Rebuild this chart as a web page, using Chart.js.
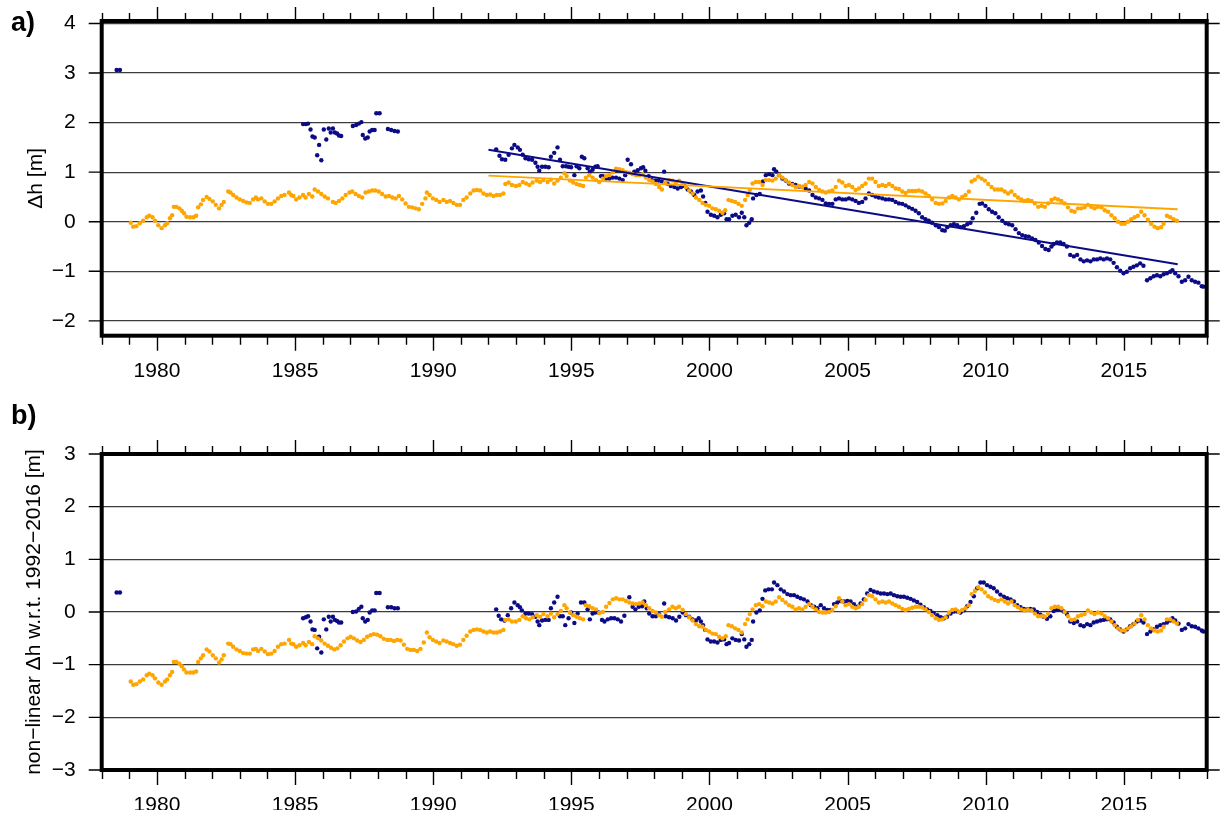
<!DOCTYPE html>
<html>
<head>
<meta charset="utf-8">
<script src="https://cdn.jsdelivr.net/npm/chart.js@4.4.1/dist/chart.umd.min.js"></script>
<style>
  html, body { margin: 0; padding: 0; background: #fff; }
  #wrap { position: relative; width: 1222px; height: 820px; overflow: hidden; }
  canvas { position: absolute; left: 0; }
  .tag { position: absolute; left: 11px; font: bold 27px "Liberation Sans", Arial, sans-serif; line-height: 27px; color: #000; }
</style>
</head>
<body>
<div id="wrap">
  <canvas id="chartA" width="1222" height="400" style="top:0"></canvas>
  <canvas id="chartB" width="1222" height="420" style="top:400px"></canvas>
  <div class="tag" style="top:9px">a)</div>
  <div class="tag" style="top:402px">b)</div>
</div>
<script>
// ---- axis ticks ----
const majorYears = [1980, 1985, 1990, 1995, 2000, 2005, 2010, 2015];
const yTicksA = [-2, -1, 0, 1, 2, 3, 4];
const gridB = [-3, -2.5, -2, -1.5, -1, -0.5, 0, 0.5, 1, 1.5, 2, 2.5, 3];
const yTicksB = [-3, -2, -1, 0, 1, 2, 3];

// ---- panel a: elevation change [m] ----
const blueA = [
  [1978.54,3.06],[1978.66,3.06],
  [1985.29,1.97],[1985.39,1.97],[1985.47,1.98],[1985.56,1.86],[1985.63,1.72],[1985.71,1.70],[1985.8,1.34],[1985.87,1.55],[1985.95,1.24],
  [1986.04,1.86],[1986.13,1.66],[1986.22,1.88],[1986.29,1.80],[1986.37,1.88],[1986.44,1.80],[1986.52,1.78],[1986.59,1.74],[1986.67,1.73],
  [1987.09,1.93],[1987.21,1.95],[1987.31,1.98],[1987.4,2.01],[1987.45,1.75],[1987.54,1.68],[1987.63,1.70],[1987.7,1.82],[1987.79,1.85],[1987.88,1.85],
  [1987.94,2.19],[1988.06,2.19],[1988.36,1.87],[1988.48,1.85],[1988.6,1.83],[1988.72,1.82],
  [1992.28,1.46],[1992.4,1.33],[1992.49,1.26],[1992.61,1.25],[1992.73,1.35],[1992.85,1.48],[1992.94,1.55],[1993.06,1.50],[1993.14,1.45],[1993.24,1.35],
  [1993.34,1.28],[1993.46,1.26],[1993.58,1.25],[1993.7,1.19],[1993.78,1.11],[1993.84,1.03],[1993.94,1.11],[1994.06,1.11],[1994.18,1.10],[1994.26,1.31],
  [1994.38,1.39],[1994.5,1.50],[1994.59,1.25],[1994.69,1.12],[1994.81,1.12],[1994.9,1.11],[1994.99,1.10],[1995.11,0.94],[1995.19,1.12],[1995.29,1.08],
  [1995.38,1.31],[1995.47,1.28],[1995.59,1.08],[1995.67,1.01],[1995.77,1.05],[1995.87,1.11],[1995.95,1.12],[1996.07,0.92],[1996.14,0.92],[1996.26,0.87],
  [1996.38,0.87],[1996.5,0.89],[1996.62,0.89],[1996.74,0.87],[1996.86,0.84],[1996.95,0.94],[1997.04,1.25],[1997.16,1.16],[1997.28,1.01],[1997.4,1.04],
  [1997.52,1.08],[1997.6,1.10],[1997.68,1.03],[1997.8,0.92],[1997.92,0.84],[1998.04,0.83],[1998.16,0.83],[1998.28,0.81],[1998.36,1.01],[1998.48,0.77],
  [1998.6,0.72],[1998.73,0.70],[1998.85,0.67],[1998.97,0.70],[1999.09,0.72],[1999.21,0.65],[1999.33,0.61],[1999.45,0.54],[1999.57,0.61],[1999.69,0.63],
  [1999.77,0.51],[1999.85,0.38],[1999.93,0.20],[2000.05,0.14],[2000.17,0.12],[2000.29,0.09],[2000.41,0.14],[2000.53,0.17],[2000.62,0.05],[2000.71,0.05],
  [2000.83,0.12],[2000.95,0.14],[2001.07,0.09],[2001.17,0.18],[2001.26,0.09],[2001.34,-0.07],[2001.44,-0.02],[2001.53,0.05],
  [2001.58,0.47],[2001.7,0.54],[2001.82,0.56],[2001.94,0.81],[2002.04,0.94],[2002.16,0.96],[2002.28,0.94],[2002.34,1.06],[2002.42,1.01],[2002.52,0.94],
  [2002.64,0.87],[2002.76,0.83],[2002.88,0.77],[2003.0,0.76],[2003.12,0.74],[2003.24,0.71],[2003.36,0.70],[2003.48,0.67],[2003.61,0.63],[2003.73,0.54],
  [2003.85,0.49],[2003.97,0.47],[2004.09,0.44],[2004.21,0.37],[2004.33,0.36],[2004.45,0.36],[2004.57,0.45],[2004.69,0.47],[2004.81,0.45],[2004.93,0.45],
  [2005.05,0.47],[2005.17,0.45],[2005.29,0.42],[2005.41,0.38],[2005.53,0.40],[2005.65,0.47],[2005.77,0.57],[2005.89,0.54],[2006.01,0.51],[2006.13,0.49],
  [2006.26,0.47],[2006.38,0.45],[2006.5,0.45],[2006.62,0.44],[2006.74,0.40],[2006.86,0.37],[2006.98,0.36],[2007.1,0.33],[2007.22,0.29],[2007.34,0.26],
  [2007.46,0.22],[2007.58,0.17],[2007.7,0.09],[2007.82,0.05],[2007.94,0.02],[2008.06,-0.02],[2008.19,-0.07],[2008.31,-0.11],[2008.43,-0.17],[2008.52,-0.18],
  [2008.61,-0.11],[2008.73,-0.07],[2008.85,-0.05],[2008.97,-0.07],[2009.09,-0.11],[2009.21,-0.09],[2009.33,-0.05],[2009.45,-0.02],[2009.53,0.07],[2009.66,0.18],
  [2009.78,0.36],[2009.87,0.37],[2009.99,0.32],[2010.11,0.25],[2010.23,0.20],[2010.35,0.17],[2010.47,0.09],[2010.6,0.02],[2010.72,-0.03],[2010.84,-0.05],
  [2010.96,-0.07],[2011.08,-0.15],[2011.2,-0.23],[2011.32,-0.27],[2011.44,-0.29],[2011.56,-0.30],[2011.68,-0.34],[2011.8,-0.37],[2011.92,-0.42],[2012.04,-0.49],
  [2012.16,-0.55],[2012.28,-0.57],[2012.38,-0.50],[2012.46,-0.45],[2012.58,-0.42],[2012.7,-0.42],[2012.82,-0.45],[2012.94,-0.50],[2013.06,-0.67],[2013.19,-0.70],
  [2013.31,-0.67],[2013.43,-0.76],[2013.55,-0.80],[2013.67,-0.78],[2013.79,-0.80],[2013.91,-0.76],[2014.03,-0.76],[2014.15,-0.74],[2014.27,-0.76],[2014.39,-0.74],
  [2014.51,-0.76],[2014.63,-0.83],[2014.75,-0.92],[2014.87,-0.99],[2014.99,-1.04],[2015.11,-1.01],[2015.23,-0.94],[2015.35,-0.91],[2015.47,-0.88],[2015.59,-0.84],
  [2015.71,-0.89],[2015.84,-1.18],[2015.96,-1.14],[2016.08,-1.10],[2016.2,-1.08],[2016.32,-1.10],[2016.44,-1.06],[2016.56,-1.04],[2016.68,-1.01],[2016.76,-0.98],
  [2016.86,-1.04],[2016.98,-1.10],[2017.1,-1.21],[2017.22,-1.18],[2017.34,-1.11],[2017.46,-1.18],[2017.58,-1.21],[2017.7,-1.23],[2017.82,-1.30],[2017.88,-1.31]
];
const orangeA = [
  [1979.05,-0.02],[1979.14,-0.10],[1979.25,-0.09],[1979.38,-0.03],[1979.5,0.02],[1979.63,0.09],[1979.72,0.12],[1979.84,0.09],[1979.93,0.02],[1980.05,-0.07],
  [1980.17,-0.13],[1980.29,-0.07],[1980.37,-0.03],[1980.47,0.07],[1980.55,0.13],[1980.61,0.30],[1980.7,0.30],[1980.81,0.27],[1980.9,0.22],[1980.98,0.17],
  [1981.07,0.10],[1981.2,0.09],[1981.32,0.09],[1981.42,0.12],[1981.49,0.29],[1981.59,0.35],[1981.67,0.44],[1981.8,0.50],[1981.9,0.46],[1982.02,0.41],
  [1982.13,0.34],[1982.25,0.27],[1982.34,0.34],[1982.42,0.40],[1982.58,0.61],[1982.66,0.59],[1982.76,0.54],[1982.88,0.49],[1983.0,0.45],[1983.12,0.42],
  [1983.24,0.39],[1983.36,0.38],[1983.48,0.45],[1983.58,0.49],[1983.66,0.45],[1983.78,0.47],[1983.9,0.41],[1984.02,0.36],[1984.14,0.36],[1984.26,0.41],
  [1984.38,0.47],[1984.5,0.52],[1984.62,0.54],[1984.78,0.59],[1984.86,0.54],[1984.94,0.52],[1985.04,0.45],[1985.16,0.49],[1985.29,0.54],[1985.38,0.49],
  [1985.5,0.56],[1985.62,0.51],[1985.71,0.65],[1985.83,0.61],[1985.95,0.56],[1986.07,0.51],[1986.19,0.47],[1986.37,0.40],[1986.47,0.38],[1986.59,0.42],
  [1986.71,0.47],[1986.83,0.54],[1986.97,0.59],[1987.07,0.61],[1987.19,0.56],[1987.31,0.52],[1987.43,0.49],[1987.55,0.59],[1987.67,0.61],[1987.79,0.63],
  [1987.91,0.63],[1988.03,0.61],[1988.15,0.56],[1988.28,0.51],[1988.4,0.52],[1988.52,0.49],[1988.64,0.47],[1988.76,0.52],[1988.88,0.45],[1989.0,0.37],
  [1989.12,0.30],[1989.24,0.29],[1989.36,0.27],[1989.48,0.25],[1989.6,0.36],[1989.72,0.47],[1989.77,0.59],[1989.87,0.54],[1989.99,0.47],[1990.11,0.44],
  [1990.23,0.40],[1990.37,0.44],[1990.49,0.40],[1990.61,0.42],[1990.73,0.38],[1990.85,0.34],[1990.97,0.34],[1991.09,0.44],[1991.21,0.49],[1991.34,0.57],
  [1991.46,0.63],[1991.58,0.64],[1991.7,0.63],[1991.82,0.57],[1991.94,0.54],[1992.06,0.55],[1992.18,0.52],[1992.3,0.54],[1992.42,0.54],[1992.54,0.57],
  [1992.61,0.76],[1992.73,0.79],[1992.85,0.74],[1992.99,0.72],[1993.12,0.74],[1993.24,0.80],[1993.36,0.77],[1993.48,0.74],[1993.6,0.79],[1993.75,0.83],
  [1993.87,0.80],[1993.99,0.84],[1994.14,0.80],[1994.26,0.85],[1994.38,0.77],[1994.5,0.83],[1994.62,0.89],[1994.75,0.98],[1994.83,0.92],[1994.95,0.83],
  [1995.07,0.79],[1995.19,0.76],[1995.31,0.74],[1995.43,0.72],[1995.53,0.89],[1995.65,0.94],[1995.77,0.89],[1995.89,0.84],[1996.01,0.80],[1996.14,0.87],
  [1996.26,0.92],[1996.38,0.94],[1996.5,1.00],[1996.62,1.07],[1996.74,1.06],[1996.86,1.04],[1996.98,1.00],[1997.1,0.99],[1997.22,0.96],[1997.34,0.94],
  [1997.46,0.94],[1997.58,0.96],[1997.7,0.89],[1997.82,0.84],[1997.94,0.81],[1998.06,0.76],[1998.18,0.70],[1998.28,0.65],[1998.4,0.79],[1998.54,0.84],
  [1998.66,0.83],[1998.78,0.77],[1998.9,0.83],[1999.03,0.77],[1999.15,0.70],[1999.27,0.63],[1999.39,0.57],[1999.51,0.49],[1999.63,0.44],[1999.75,0.38],
  [1999.87,0.34],[1999.99,0.32],[2000.11,0.27],[2000.23,0.25],[2000.35,0.22],[2000.47,0.18],[2000.57,0.23],[2000.69,0.44],[2000.81,0.42],[2000.93,0.40],
  [2001.05,0.36],[2001.17,0.32],[2001.29,0.44],[2001.38,0.54],[2001.46,0.64],[2001.56,0.77],[2001.68,0.80],[2001.8,0.80],[2001.92,0.74],[2002.04,0.84],
  [2002.16,0.84],[2002.28,0.83],[2002.4,0.87],[2002.52,0.94],[2002.64,0.89],[2002.76,0.84],[2002.88,0.79],[2003.0,0.74],[2003.12,0.70],[2003.24,0.72],
  [2003.36,0.70],[2003.48,0.74],[2003.61,0.80],[2003.73,0.77],[2003.85,0.70],[2003.97,0.64],[2004.09,0.61],[2004.21,0.59],[2004.33,0.61],[2004.45,0.63],
  [2004.57,0.70],[2004.69,0.83],[2004.81,0.79],[2004.93,0.72],[2005.05,0.74],[2005.17,0.70],[2005.29,0.64],[2005.41,0.67],[2005.53,0.72],[2005.65,0.77],
  [2005.77,0.87],[2005.89,0.87],[2006.01,0.80],[2006.13,0.72],[2006.26,0.74],[2006.38,0.72],[2006.5,0.76],[2006.62,0.72],[2006.74,0.67],[2006.86,0.66],
  [2006.98,0.61],[2007.1,0.58],[2007.22,0.62],[2007.34,0.62],[2007.46,0.62],[2007.58,0.63],[2007.7,0.61],[2007.82,0.57],[2007.94,0.52],[2008.06,0.45],
  [2008.19,0.38],[2008.31,0.36],[2008.43,0.37],[2008.55,0.42],[2008.67,0.49],[2008.79,0.52],[2008.91,0.49],[2009.03,0.45],[2009.15,0.50],[2009.27,0.54],
  [2009.39,0.61],[2009.49,0.81],[2009.61,0.85],[2009.73,0.91],[2009.85,0.87],[2009.97,0.83],[2010.09,0.76],[2010.21,0.70],[2010.33,0.65],[2010.45,0.65],
  [2010.57,0.65],[2010.69,0.61],[2010.81,0.57],[2010.93,0.61],[2011.05,0.54],[2011.17,0.49],[2011.29,0.45],[2011.41,0.42],[2011.53,0.44],[2011.66,0.42],
  [2011.78,0.37],[2011.9,0.30],[2012.02,0.32],[2012.14,0.30],[2012.26,0.37],[2012.38,0.44],[2012.5,0.47],[2012.62,0.45],[2012.74,0.42],[2012.86,0.37],
  [2012.98,0.29],[2013.1,0.22],[2013.22,0.20],[2013.34,0.27],[2013.46,0.27],[2013.58,0.29],[2013.7,0.34],[2013.82,0.30],[2013.94,0.27],[2014.06,0.30],
  [2014.19,0.29],[2014.31,0.23],[2014.43,0.20],[2014.55,0.13],[2014.67,0.07],[2014.79,0.00],[2014.91,-0.04],[2015.03,-0.04],[2015.15,0.00],[2015.27,0.05],
  [2015.39,0.09],[2015.51,0.12],[2015.63,0.20],[2015.75,0.13],[2015.87,0.04],[2015.99,-0.04],[2016.11,-0.10],[2016.23,-0.13],[2016.35,-0.11],[2016.44,-0.04],
  [2016.56,0.12],[2016.68,0.09],[2016.8,0.05],[2016.92,0.02]
];
// linear fits over 1992-2016 (end points)
const blueTrend = [[1992.0, 1.45], [2016.95, -0.86]];
const orangeTrend = [[1992.0, 0.93], [2016.95, 0.25]];

// ---- panel b: non-linear elevation change [m] ----
const blueB = [
  [1978.54,0.37],[1978.66,0.37],
  [1985.29,-0.12],[1985.39,-0.10],[1985.47,-0.08],[1985.56,-0.18],[1985.63,-0.33],[1985.71,-0.34],[1985.8,-0.69],[1985.87,-0.47],[1985.95,-0.77],
  [1986.04,-0.14],[1986.13,-0.33],[1986.22,-0.09],[1986.29,-0.18],[1986.37,-0.09],[1986.44,-0.15],[1986.52,-0.17],[1986.59,-0.20],[1986.67,-0.20],
  [1987.09,0.00],[1987.21,0.01],[1987.31,0.06],[1987.4,0.10],[1987.45,-0.12],[1987.54,-0.18],[1987.63,-0.15],[1987.7,-0.01],[1987.79,0.03],[1987.88,0.03],
  [1987.94,0.36],[1988.06,0.36],[1988.36,0.09],[1988.48,0.09],[1988.6,0.07],[1988.72,0.07],
  [1992.28,0.05],[1992.37,-0.07],[1992.46,-0.14],[1992.58,-0.16],[1992.7,-0.06],[1992.82,0.07],[1992.94,0.18],[1993.06,0.13],[1993.14,0.09],[1993.21,0.03],
  [1993.34,-0.03],[1993.46,-0.03],[1993.58,-0.04],[1993.7,-0.09],[1993.78,-0.18],[1993.84,-0.25],[1993.94,-0.16],[1994.06,-0.15],[1994.18,-0.15],[1994.26,0.07],
  [1994.38,0.18],[1994.5,0.29],[1994.59,-0.08],[1994.69,-0.08],[1994.78,-0.25],[1994.9,-0.12],[1994.99,-0.01],[1995.11,-0.21],[1995.23,-0.03],[1995.35,0.18],
  [1995.47,0.18],[1995.59,0.05],[1995.67,-0.14],[1995.77,-0.03],[1995.87,-0.01],[1995.99,-0.01],[1996.11,-0.15],[1996.2,-0.18],[1996.32,-0.14],[1996.44,-0.12],
  [1996.56,-0.12],[1996.68,-0.14],[1996.8,-0.18],[1996.92,-0.07],[1997.1,0.28],[1997.22,0.10],[1997.32,0.05],[1997.44,0.10],[1997.56,0.11],[1997.64,0.20],
  [1997.73,0.07],[1997.82,-0.03],[1997.94,-0.08],[1998.06,-0.08],[1998.18,-0.04],[1998.36,0.16],[1998.42,-0.08],[1998.54,-0.10],[1998.67,-0.12],[1998.79,-0.16],
  [1998.91,-0.09],[1999.03,-0.01],[1999.15,-0.06],[1999.27,-0.09],[1999.39,-0.14],[1999.51,-0.16],[1999.61,-0.12],[1999.69,-0.18],[1999.77,-0.25],[1999.85,-0.34],
  [1999.93,-0.52],[2000.05,-0.56],[2000.17,-0.56],[2000.29,-0.58],[2000.41,-0.53],[2000.53,-0.52],[2000.62,-0.61],[2000.71,-0.59],[2000.83,-0.50],[2000.95,-0.53],
  [2001.07,-0.54],[2001.17,-0.42],[2001.26,-0.52],[2001.34,-0.66],[2001.44,-0.61],[2001.53,-0.53],
  [2001.58,-0.18],[2001.7,-0.01],[2001.82,0.03],[2001.92,0.25],[2002.02,0.41],[2002.14,0.43],[2002.26,0.43],[2002.34,0.56],[2002.46,0.51],[2002.58,0.43],
  [2002.7,0.39],[2002.82,0.34],[2002.94,0.32],[2003.06,0.32],[2003.18,0.29],[2003.3,0.26],[2003.42,0.24],[2003.55,0.20],[2003.67,0.13],[2003.79,0.10],
  [2003.91,0.07],[2004.03,0.13],[2004.15,0.07],[2004.27,0.04],[2004.39,0.04],[2004.51,0.15],[2004.63,0.18],[2004.75,0.21],[2004.87,0.20],[2004.99,0.21],
  [2005.11,0.20],[2005.23,0.15],[2005.35,0.10],[2005.47,0.16],[2005.59,0.24],[2005.71,0.35],[2005.83,0.42],[2005.95,0.39],[2006.08,0.37],[2006.2,0.35],
  [2006.32,0.35],[2006.44,0.34],[2006.56,0.35],[2006.68,0.32],[2006.8,0.30],[2006.92,0.29],[2007.04,0.29],[2007.16,0.27],[2007.28,0.25],[2007.4,0.22],
  [2007.52,0.19],[2007.64,0.14],[2007.76,0.09],[2007.88,0.05],[2008.0,0.02],[2008.12,-0.02],[2008.25,-0.06],[2008.37,-0.10],[2008.49,-0.12],[2008.6,-0.09],
  [2008.73,-0.03],[2008.85,0.01],[2008.97,0.01],[2009.09,-0.01],[2009.21,0.03],[2009.33,0.11],[2009.45,0.19],[2009.57,0.30],[2009.69,0.45],[2009.81,0.56],
  [2009.93,0.56],[2010.05,0.51],[2010.17,0.48],[2010.29,0.45],[2010.41,0.39],[2010.53,0.33],[2010.66,0.29],[2010.78,0.26],[2010.9,0.24],[2011.02,0.20],
  [2011.14,0.13],[2011.26,0.09],[2011.38,0.06],[2011.5,0.05],[2011.62,0.06],[2011.74,0.05],[2011.86,0.00],[2011.98,-0.05],[2012.1,-0.09],[2012.22,-0.13],
  [2012.34,-0.08],[2012.46,0.02],[2012.58,0.04],[2012.7,0.04],[2012.82,0.01],[2012.94,-0.04],[2013.06,-0.18],[2013.19,-0.21],[2013.31,-0.18],[2013.43,-0.25],
  [2013.55,-0.27],[2013.67,-0.23],[2013.79,-0.25],[2013.91,-0.20],[2014.03,-0.18],[2014.15,-0.16],[2014.27,-0.15],[2014.39,-0.14],[2014.51,-0.14],[2014.63,-0.20],
  [2014.75,-0.28],[2014.87,-0.33],[2014.99,-0.37],[2015.11,-0.33],[2015.23,-0.27],[2015.35,-0.23],[2015.47,-0.18],[2015.59,-0.16],[2015.71,-0.20],
  [2015.84,-0.42],[2015.96,-0.37],[2016.08,-0.33],[2016.2,-0.28],[2016.32,-0.25],[2016.44,-0.23],[2016.56,-0.20],[2016.68,-0.16],[2016.76,-0.12],[2016.86,-0.16],
  [2016.98,-0.22],[2017.1,-0.34],[2017.22,-0.31],[2017.34,-0.23],[2017.46,-0.27],[2017.58,-0.28],[2017.7,-0.31],[2017.82,-0.35],[2017.88,-0.37]
];
const orangeB = [
  [1979.05,-1.32],[1979.14,-1.38],[1979.25,-1.37],[1979.38,-1.32],[1979.5,-1.28],[1979.63,-1.20],[1979.72,-1.17],[1979.84,-1.20],[1979.93,-1.26],[1980.05,-1.34],
  [1980.17,-1.38],[1980.29,-1.32],[1980.37,-1.28],[1980.47,-1.20],[1980.55,-1.14],[1980.61,-0.95],[1980.7,-0.95],[1980.81,-0.98],[1980.9,-1.03],[1980.98,-1.09],
  [1981.07,-1.15],[1981.2,-1.15],[1981.32,-1.15],[1981.42,-1.13],[1981.49,-0.95],[1981.59,-0.88],[1981.67,-0.82],[1981.8,-0.71],[1981.9,-0.75],[1982.02,-0.82],
  [1982.13,-0.88],[1982.25,-0.96],[1982.34,-0.90],[1982.42,-0.82],[1982.58,-0.60],[1982.66,-0.61],[1982.76,-0.66],[1982.88,-0.71],[1983.0,-0.74],[1983.12,-0.78],
  [1983.24,-0.79],[1983.36,-0.79],[1983.48,-0.71],[1983.58,-0.70],[1983.66,-0.74],[1983.78,-0.70],[1983.9,-0.75],[1984.02,-0.80],[1984.14,-0.79],[1984.26,-0.74],
  [1984.38,-0.66],[1984.5,-0.61],[1984.62,-0.60],[1984.78,-0.53],[1984.86,-0.60],[1984.94,-0.61],[1985.04,-0.66],[1985.16,-0.63],[1985.29,-0.59],[1985.38,-0.63],
  [1985.5,-0.57],[1985.62,-0.61],[1985.71,-0.46],[1985.83,-0.50],[1985.95,-0.54],[1986.07,-0.60],[1986.19,-0.64],[1986.3,-0.68],[1986.42,-0.71],[1986.53,-0.69],
  [1986.65,-0.63],[1986.77,-0.56],[1986.9,-0.50],[1987.01,-0.47],[1987.13,-0.50],[1987.25,-0.54],[1987.37,-0.57],[1987.49,-0.53],[1987.61,-0.47],[1987.73,-0.44],
  [1987.85,-0.42],[1987.97,-0.43],[1988.09,-0.46],[1988.21,-0.51],[1988.34,-0.53],[1988.46,-0.53],[1988.58,-0.55],[1988.7,-0.53],[1988.82,-0.54],[1988.94,-0.62],
  [1989.06,-0.70],[1989.18,-0.72],[1989.3,-0.72],[1989.42,-0.74],[1989.54,-0.70],[1989.66,-0.58],[1989.77,-0.39],[1989.87,-0.48],[1989.99,-0.53],[1990.11,-0.56],
  [1990.23,-0.59],[1990.37,-0.54],[1990.49,-0.56],[1990.61,-0.59],[1990.73,-0.61],[1990.85,-0.64],[1990.97,-0.62],[1991.09,-0.53],[1991.21,-0.45],[1991.34,-0.37],
  [1991.46,-0.34],[1991.58,-0.33],[1991.7,-0.34],[1991.82,-0.37],[1991.94,-0.39],[1992.06,-0.37],[1992.18,-0.39],[1992.3,-0.39],[1992.42,-0.37],[1992.54,-0.34],
  [1992.61,-0.15],[1992.73,-0.14],[1992.85,-0.18],[1992.99,-0.18],[1993.12,-0.15],[1993.24,-0.08],[1993.36,-0.12],[1993.48,-0.14],[1993.6,-0.10],[1993.75,-0.06],
  [1993.87,-0.09],[1993.99,-0.04],[1994.14,-0.08],[1994.26,-0.03],[1994.38,-0.10],[1994.5,-0.04],[1994.62,0.02],[1994.75,0.13],[1994.83,0.07],[1994.95,-0.01],
  [1995.07,-0.06],[1995.19,-0.09],[1995.31,-0.12],[1995.43,-0.14],[1995.53,0.13],[1995.65,0.11],[1995.77,0.07],[1995.89,0.05],[1996.01,-0.02],[1996.14,0.00],
  [1996.26,0.10],[1996.38,0.17],[1996.5,0.24],[1996.62,0.26],[1996.74,0.24],[1996.86,0.24],[1996.98,0.21],[1997.1,0.18],[1997.22,0.16],[1997.34,0.15],
  [1997.46,0.16],[1997.58,0.18],[1997.7,0.13],[1997.82,0.07],[1997.94,0.02],[1998.06,-0.01],[1998.18,-0.06],[1998.28,-0.09],[1998.4,0.00],[1998.54,0.05],
  [1998.66,0.10],[1998.78,0.07],[1998.9,0.10],[1999.03,0.04],[1999.15,-0.04],[1999.27,-0.10],[1999.39,-0.16],[1999.51,-0.23],[1999.63,-0.27],[1999.75,-0.28],
  [1999.87,-0.34],[1999.99,-0.37],[2000.11,-0.41],[2000.23,-0.42],[2000.35,-0.47],[2000.47,-0.50],[2000.59,-0.46],[2000.69,-0.25],[2000.81,-0.27],[2000.93,-0.31],
  [2001.05,-0.34],[2001.17,-0.39],[2001.29,-0.23],[2001.38,-0.14],[2001.46,-0.04],[2001.56,0.05],[2001.68,0.13],[2001.8,0.15],[2001.92,0.11],[2002.04,0.20],
  [2002.16,0.18],[2002.28,0.16],[2002.4,0.20],[2002.52,0.28],[2002.64,0.23],[2002.76,0.18],[2002.88,0.13],[2003.0,0.10],[2003.12,0.05],[2003.24,0.07],
  [2003.36,0.05],[2003.48,0.10],[2003.61,0.15],[2003.73,0.10],[2003.85,0.05],[2003.97,0.00],[2004.09,-0.01],[2004.21,-0.01],[2004.33,0.00],[2004.45,0.04],
  [2004.57,0.11],[2004.69,0.26],[2004.81,0.20],[2004.93,0.13],[2005.05,0.15],[2005.17,0.10],[2005.29,0.07],[2005.41,0.10],[2005.53,0.15],[2005.65,0.23],
  [2005.77,0.32],[2005.89,0.30],[2006.01,0.24],[2006.13,0.18],[2006.26,0.20],[2006.38,0.18],[2006.5,0.20],[2006.62,0.16],[2006.74,0.13],[2006.86,0.10],
  [2006.98,0.06],[2007.1,0.04],[2007.22,0.06],[2007.34,0.08],[2007.46,0.10],[2007.58,0.10],[2007.7,0.09],[2007.82,0.05],[2007.94,0.00],[2008.06,-0.06],
  [2008.19,-0.12],[2008.31,-0.15],[2008.43,-0.14],[2008.55,-0.10],[2008.67,-0.01],[2008.79,0.04],[2008.91,0.05],[2009.03,0.00],[2009.15,0.04],[2009.27,0.07],
  [2009.39,0.13],[2009.49,0.34],[2009.61,0.40],[2009.73,0.47],[2009.85,0.43],[2009.97,0.37],[2010.09,0.30],[2010.21,0.26],[2010.33,0.23],[2010.45,0.21],
  [2010.57,0.24],[2010.69,0.20],[2010.81,0.16],[2010.93,0.20],[2011.05,0.13],[2011.17,0.09],[2011.29,0.05],[2011.41,0.03],[2011.53,0.04],[2011.66,0.03],
  [2011.78,-0.03],[2011.9,-0.08],[2012.02,-0.08],[2012.14,-0.09],[2012.26,-0.03],[2012.38,0.07],[2012.5,0.10],[2012.62,0.10],[2012.74,0.07],[2012.86,0.00],
  [2012.98,-0.08],[2013.1,-0.15],[2013.22,-0.14],[2013.34,-0.08],[2013.46,-0.06],[2013.58,-0.04],[2013.7,0.03],[2013.82,-0.01],[2013.94,-0.04],[2014.06,-0.01],
  [2014.19,-0.03],[2014.31,-0.08],[2014.43,-0.12],[2014.55,-0.18],[2014.67,-0.25],[2014.79,-0.31],[2014.91,-0.35],[2015.03,-0.35],[2015.15,-0.31],[2015.27,-0.27],
  [2015.39,-0.22],[2015.51,-0.15],[2015.63,-0.06],[2015.75,-0.14],[2015.87,-0.25],[2015.99,-0.31],[2016.11,-0.35],[2016.23,-0.37],[2016.35,-0.35],[2016.44,-0.28],
  [2016.56,-0.14],[2016.68,-0.14],[2016.8,-0.18],[2016.92,-0.22]
];

// ---- styling ----
const NAVY = '#0b0b86';
const ORANGE = '#ffa500';
const FONT = '"Liberation Sans", Arial, Helvetica, sans-serif';
const minus = v => (v < 0 ? '\u2212' + Math.abs(v) : String(v));

// frame, year ticks (major/minor, top and bottom) and y tick marks on both sides
const framePlugin = {
  id: 'frame',
  afterDraw(chart, args, opts) {
    const { ctx, chartArea: a, scales: { x, y } } = chart;
    ctx.save();
    ctx.strokeStyle = '#000';
    ctx.lineWidth = 1.4;
    ctx.beginPath();
    for (let yr = x.min; yr <= x.max; yr++) {
      const px = Math.round(x.getPixelForValue(yr)) + 0.5;
      const major = majorYears.includes(yr);
      ctx.moveTo(px, a.bottom); ctx.lineTo(px, a.bottom + (major ? 15 : 9));
      ctx.moveTo(px, a.top); ctx.lineTo(px, a.top - (major ? 14 : 8));
    }
    for (const v of opts.yMarks) {
      const py = y.getPixelForValue(v);
      ctx.moveTo(a.left - 13, py); ctx.lineTo(a.left, py);
      ctx.moveTo(a.right, py); ctx.lineTo(a.right + 13, py);
    }
    ctx.stroke();
    ctx.lineWidth = 4;
    ctx.strokeRect(a.left, a.top, a.right - a.left, a.bottom - a.top);
    ctx.restore();
  }
};

function pointSet(data, color, order) {
  return {
    data, order, showLine: false,
    pointRadius: 2.2, pointHoverRadius: 2.2, pointBorderWidth: 0,
    pointBackgroundColor: color, backgroundColor: color, borderColor: color
  };
}
function lineSet(data, color, order) {
  return {
    data, order, showLine: true, pointRadius: 0, borderWidth: 2,
    borderColor: color, backgroundColor: color, fill: false
  };
}

function makeChart(canvasId, cfg) {
  return new Chart(document.getElementById(canvasId), {
    type: 'scatter',
    data: { datasets: cfg.datasets },
    options: {
      responsive: false,
      animation: false,
      events: [],
      layout: { padding: cfg.padding },
      plugins: { legend: { display: false }, tooltip: { enabled: false }, frame: { yMarks: cfg.yMarks } },
      scales: {
        x: {
          type: 'linear', min: 1978, max: 2018,
          afterBuildTicks: s => { s.ticks = majorYears.map(v => ({ value: v })); },
          afterFit: s => { s.height = cfg.xHeight; s.paddingLeft = 0; s.paddingRight = 0; },
          grid: { display: false, drawTicks: false },
          border: { display: false },
          ticks: { padding: 23, color: '#000', font: { family: FONT, size: 21 }, maxRotation: 0, callback: v => String(v) }
        },
        y: {
          type: 'linear', min: cfg.yMin, max: cfg.yMax,
          afterBuildTicks: s => { s.ticks = cfg.yGrid.map(v => ({ value: v })); },
          afterFit: s => { s.width = 101.7; s.paddingTop = 0; s.paddingBottom = 0; },
          grid: { color: '#3c3c3c', lineWidth: 1.2, drawTicks: false },
          border: { display: false },
          ticks: {
            padding: 26, color: '#000', font: { family: FONT, size: 21 },
            callback: v => (Number.isInteger(v) ? minus(v) : '')
          },
          title: { display: true, text: cfg.yTitle, color: '#000', font: { family: FONT, size: 21 }, padding: { top: cfg.titlePad, bottom: 0 } }
        }
      }
    },
    plugins: [framePlugin]
  });
}

makeChart('chartA', {
  datasets: [
    lineSet(orangeTrend, ORANGE, 0),
    lineSet(blueTrend, NAVY, 1),
    pointSet(orangeA, ORANGE, 2),
    pointSet(blueA, NAVY, 3)
  ],
  padding: { left: 0, right: 15.3, top: 21, bottom: 14.3 },
  xHeight: 50,
  yMin: -2.3, yMax: 4.05,
  yGrid: yTicksA, yMarks: yTicksA,
  yTitle: '\u0394h [m]', titlePad: 23.7
});

makeChart('chartB', {
  datasets: [
    pointSet(orangeB, ORANGE, 2),
    pointSet(blueB, NAVY, 3)
  ],
  padding: { left: 0, right: 15.3, top: 54, bottom: 10 },
  xHeight: 40,
  yMin: -3, yMax: 3,
  yGrid: gridB, yMarks: yTicksB,
  yTitle: 'non\u2212linear \u0394h w.r.t. 1992\u22122016 [m]', titlePad: 21.2
});
</script>
</body>
</html>
